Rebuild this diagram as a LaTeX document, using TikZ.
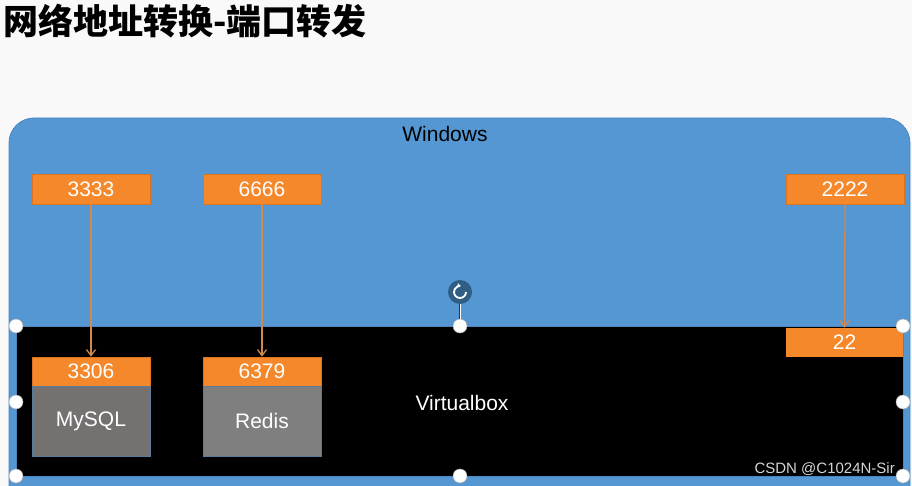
\documentclass[tikz,border=0pt]{standalone}
\usepackage{fontspec}
\setmainfont{Liberation Sans}
\newfontfamily\cjk{Noto Sans CJK SC}
\usetikzlibrary{arrows.meta,calc}
\definecolor{bgc}{HTML}{F9F9F9}
\definecolor{winblue}{HTML}{5597D3}
\definecolor{winedge}{HTML}{4A86BE}
\definecolor{porange}{HTML}{F5882A}
\definecolor{pedge}{HTML}{D9731F}
\definecolor{arrc}{HTML}{D0894F}
\definecolor{graya}{HTML}{757171}
\definecolor{grayb}{HTML}{7F7F7F}
\definecolor{grayedge}{HTML}{5A7C9C}
\definecolor{rotc}{HTML}{2F5D84}
\definecolor{wm}{HTML}{D6D6D6}
\tikzset{
  txt/.style={font=\fontsize{21}{24}\selectfont},
  port/.style={txt, fill=porange, draw=pedge, line width=0.6pt, text=white,
    minimum width=118pt, minimum height=30pt, inner sep=0pt},
  svc/.style={txt, draw=grayedge, line width=0.6pt, text=white,
    minimum width=118pt, minimum height=70pt, inner sep=0pt},
  arr/.style={draw=arrc, line width=1.3pt, -{Straight Barb[length=6pt,width=9pt]}},
  handle/.style={circle, fill=white, draw=gray!70, line width=0.5pt,
    minimum size=14pt, inner sep=0pt}
}
\begin{document}
\begin{tikzpicture}[x=1pt,y=-1pt]
\useasboundingbox (0,0) rectangle (912,486);
\fill[bgc] (0,0) rectangle (912,486);
% title
\node[anchor=west, inner sep=0pt] (title) at (3,21)
  {\cjk\bfseries\fontsize{35}{38}\selectfont 网络地址转换-端口转发};
% Windows box
\draw[fill=winblue, draw=winedge, line width=0.8pt, rounded corners=25pt]
  (9,486) -- (9,118) -- (910,118) [sharp corners] -- (910,486);
\node[txt, text=black] (win) at (445,134) {Windows};
% Virtualbox
\node[fill=black, draw=winedge, line width=0.6pt, minimum width=887pt,
  minimum height=150pt, inner sep=0pt] (vbox) at (459.5,401) {};
\node[txt, text=white] (vlabel) at (462,403) {Virtualbox};
% ports on host
\node[port] (p3333) at (91,189) {3333};
\node[port] (p6666) at (262,189) {6666};
\node[port] (p2222) at (845,189) {2222};
% guest side
\node[port, minimum height=29pt] (p3306) at (91,371.5) {3306};
\node[svc, fill=graya] (mysql) at (91,421) {MySQL};
\node[port, minimum height=29pt] (p6379) at (262,371.5) {6379};
\node[svc, fill=grayb] (redis) at (262,421) {Redis};
\node[port, minimum height=29pt, minimum width=117pt, draw=none] (p22) at (844.5,342.5) {22};
% arrows
\draw[arr] (p3333.south) -- (p3306.north);
\draw[arr] (p6666.south) -- (p6379.north);
\draw[arr] (p2222.south) -- (p22.north);
% rotation handle
\node[circle, fill=rotc, minimum size=24pt, inner sep=0pt] (rot) at (460,292) {};
\node[handle] (htm) at (460,326) {};
\draw[rotc!60!black, line width=2.4pt] (rot.south) -- (htm.north);
\draw[white, line width=0.8pt] (rot.south) -- (htm.north);
\draw[white, line width=1.8pt, -{Latex[length=3.5pt,width=5pt]}]
  ($(rot)+(6,0)$) arc[start angle=0, end angle=-280, radius=6pt];
% selection handles
\node[handle] (htl) at (16,326) {};
\node[handle] (htr) at (903,326) {};
\node[handle] (hml) at (16,402) {};
\node[handle] (hmr) at (903,402) {};
\node[handle] (hbl) at (16,476) {};
\node[handle] (hbm) at (460,476) {};
\node[handle] (hbr) at (903,476) {};
% watermark
\node[anchor=east, text=wm, inner sep=0pt, font=\fontsize{15}{17}\selectfont] (wmk) at (895,469) {CSDN @C1024N-Sir};
\end{tikzpicture}
\end{document}
